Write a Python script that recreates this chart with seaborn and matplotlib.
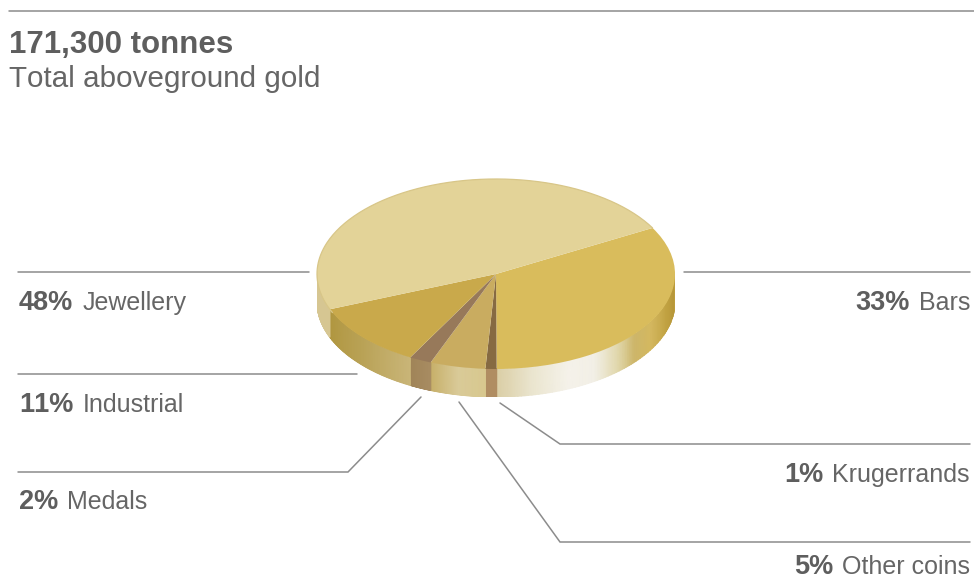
import numpy as np
import matplotlib
matplotlib.use("Agg")
import matplotlib.pyplot as plt
from matplotlib.colors import LinearSegmentedColormap
import seaborn as sns

# Holdings by form, clockwise from the Bars wedge
categories = ["Bars", "Krugerrands", "Other coins", "Medals", "Industrial", "Jewellery"]
shares = [33, 1, 5, 2, 11, 48]
title_text = "171,300 tonnes"
subtitle_text = "Total aboveground gold"

sns.set_theme(style="white")
plt.rcParams["font.family"] = ["Liberation Sans", "DejaVu Sans"]
plt.rcParams["text.kerning_factor"] = 6

top_palette = sns.color_palette(["#d9bc5c", "#866a42", "#c9ac60", "#97795a", "#c9a94b", "#e3d398"])

# Rim shading for each wedge, running clockwise through that wedge's visible arc
rim_stops = {
    "Bars": [(0.0, "#c6a640"), (0.10, "#b8983a"), (0.21, "#c2a343"), (0.34, "#d4b860"), (0.44, "#cdb66a"),
             (0.52, "#e0d6a8"), (0.63, "#f2efe6"), (0.74, "#f5f2ea"), (0.87, "#ebe6d0"), (1.0, "#dbcfa6")],
    "Krugerrands": [(0.0, "#b08d62"), (1.0, "#b08d62")],
    "Other coins": [(0.0, "#d8c88f"), (0.5, "#d9ca98"), (1.0, "#c7b06a")],
    "Medals": [(0.0, "#a88c62"), (1.0, "#a08458")],
    "Industrial": [(0.0, "#c9b578"), (0.5, "#b9a256"), (1.0, "#b0963f")],
    "Jewellery": [(0.0, "#d6c692"), (1.0, "#d6c692")],
}

W, H = 974, 580
fig = plt.figure(figsize=(W / 100, H / 100), dpi=100, facecolor="white")

# Disc axes: x/y span one radius each way, with the rim hanging below y = -1
RX_LEFT, RX_RIGHT, TOP, FACE_BOTTOM, RIM_BOTTOM = 317, 675, 179, 369, 397
rim_depth = (RIM_BOTTOM - FACE_BOTTOM) / ((FACE_BOTTOM - TOP) / 2)
ax = fig.add_axes([RX_LEFT / W, (H - RIM_BOTTOM) / H, (RX_RIGHT - RX_LEFT) / W, (RIM_BOTTOM - TOP) / H])
start_angle = 29
wedges, _ = ax.pie(shares, colors=top_palette, startangle=start_angle, counterclock=False,
                   radius=1, center=(0, 0), wedgeprops={"linewidth": 0})
ax.set_aspect("auto")
ax.set_xlim(-1, 1)
ax.set_ylim(-1 - rim_depth, 1)
ax.axis("off")

# Rim: a shaded band below the front half of each wedge
angle = start_angle
for name, share in zip(categories, shares):
    sweep = share / sum(shares) * 360
    a0, a1 = angle, angle - sweep
    angle = a1
    lo, hi = max(a1, -180), min(a0, 0)
    if hi <= lo:
        continue
    theta = np.linspace(hi, lo, 80)
    rad = np.radians(theta)
    xs = np.vstack([np.cos(rad), np.cos(rad)])
    ys = np.vstack([np.sin(rad), np.sin(rad) - rim_depth])
    frac = (hi - theta) / (hi - lo)
    cmap = LinearSegmentedColormap.from_list(name, rim_stops[name])
    ax.pcolormesh(xs, ys, np.vstack([frac, frac]), cmap=cmap, vmin=0, vmax=1,
                  shading="gouraud", zorder=0.5)

# Soft darker edge around the back of the disc
back = np.radians(np.linspace(start_angle, 204, 200))
ax.plot(np.cos(back), np.sin(back), color="#d8c688", lw=0.9, zorder=2, clip_on=False)

# Overlay in pixel coordinates for rules and text
ov = fig.add_axes([0, 0, 1, 1], facecolor="none")
ov.set_xlim(0, W)
ov.set_ylim(H, 0)
ov.axis("off")

LINE = "#8c8c8c"
TEXT = "#666666"
BOLD = "#5e5e5e"
leaders = [
    [(9, 11), (974, 11)],
    [(18, 272), (309, 272)],
    [(18, 374), (357, 374)],
    [(18, 472), (348, 472), (421, 397)],
    [(684, 272), (970, 272)],
    [(500, 403), (560, 444), (970, 444)],
    [(459, 402), (560, 542), (970, 542)],
]
for pts in leaders:
    px, py = zip(*pts)
    ov.plot(px, py, color=LINE, lw=1.1, solid_joinstyle="miter")

ov.text(9, 53, title_text, fontsize=22.5, fontweight="bold", color=BOLD, va="baseline")
ov.text(9, 87, subtitle_text, fontsize=21.3, color=TEXT, va="baseline")

renderer = fig.canvas.get_renderer()
inv = ov.transData.inverted()


def label(name, x, y, right=False):
    pct = f"{shares[categories.index(name)]}%"
    gap = 9
    if right:
        t = ov.text(x, y, name, fontsize=18, color=TEXT, ha="right", va="baseline")
        left = inv.transform(t.get_window_extent(renderer))[0][0]
        ov.text(left - gap, y, pct, fontsize=19.5, fontweight="bold", color=BOLD, ha="right", va="baseline")
    else:
        t = ov.text(x, y, pct, fontsize=19.5, fontweight="bold", color=BOLD, va="baseline")
        end = inv.transform(t.get_window_extent(renderer))[1][0]
        ov.text(end + gap, y, name, fontsize=18, color=TEXT, va="baseline")


label("Jewellery", 19, 310)
label("Industrial", 19, 412)
label("Medals", 19, 509)
label("Bars", 970, 310, right=True)
label("Krugerrands", 970, 482, right=True)
label("Other coins", 970, 574, right=True)

fig.savefig("out.png", dpi=100, facecolor="white")
